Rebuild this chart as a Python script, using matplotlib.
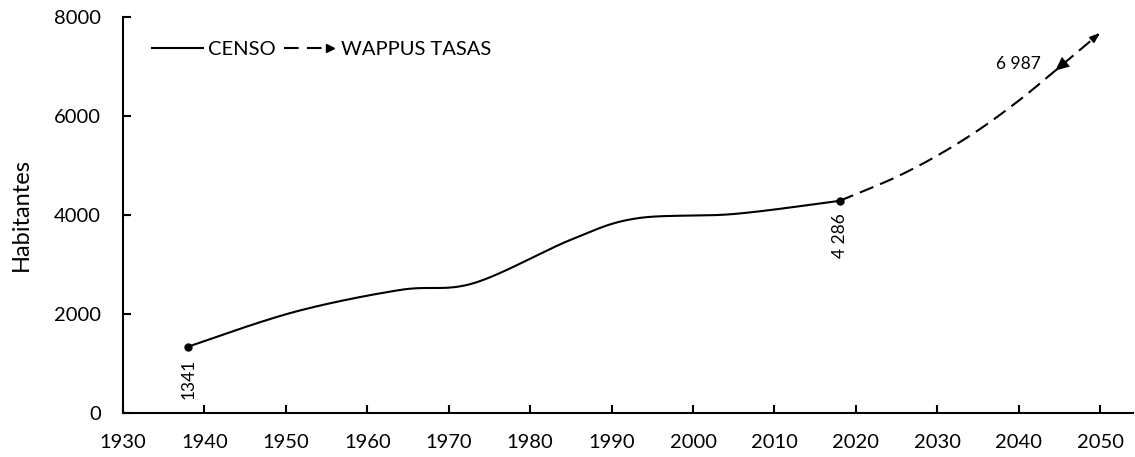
import numpy as np
import matplotlib
matplotlib.use('Agg')
import matplotlib.pyplot as plt
from matplotlib.lines import Line2D
from matplotlib.legend_handler import HandlerLine2D

plt.rcParams['font.family'] = ['Lato', 'DejaVu Sans']

# census counts
censo_years = [1938, 1951, 1964, 1973, 1985, 1993, 2005, 2018]
censo_pop = [1341, 2040, 2485, 2620, 3500, 3930, 4020, 4286]

# projection (Wappus, rates)
proj_years = [2018, 2020, 2025, 2030, 2035, 2040, 2045, 2050]
proj_pop = [4286, 4420, 4770, 5200, 5710, 6310, 6987, 7680]

xticks = list(range(1930, 2051, 10))
yticks = [0, 2000, 4000, 6000, 8000]


def smooth(x, y, n=40):
    # bezier smoothing through every point, like a spreadsheet "smoothed line"
    pts = np.column_stack([x, y]).astype(float)
    p = np.vstack([pts[0], pts, pts[-1]])
    t = np.linspace(0, 1, n)[:, None]
    out = []
    for i in range(1, len(p) - 2):
        p0, p1, p2, p3 = p[i - 1], p[i], p[i + 1], p[i + 2]
        c1 = p1 + (p2 - p0) / 6
        c2 = p2 - (p3 - p1) / 6
        seg = (1 - t)**3 * p1 + 3 * (1 - t)**2 * t * c1 + 3 * (1 - t) * t**2 * c2 + t**3 * p2
        out.append(seg if i == 1 else seg[1:])
    return np.vstack(out)


class ArrowLineHandler(HandlerLine2D):
    def create_artists(self, legend, orig_handle, xdescent, ydescent,
                       width, height, fontsize, trans):
        y = height / 2 - ydescent
        line = Line2D([-xdescent, width - xdescent - 6], [y, y], color='black',
                      lw=1.5, ls=(0, (7, 4)))
        head = Line2D([width - xdescent - 5], [y], marker='>', color='black',
                      markersize=6, ls='none')
        line.set_transform(trans)
        head.set_transform(trans)
        return [line, head]


fig = plt.figure(figsize=(11.35, 4.57), dpi=100)
ax = fig.add_axes([0.1084, 0.0963, 0.8896, 0.8665])

c = smooth(censo_years, censo_pop)
l1, = ax.plot(c[:, 0], c[:, 1], color='black', lw=1.5, solid_capstyle='butt')
ax.plot([censo_years[0], censo_years[-1]], [censo_pop[0], censo_pop[-1]], 'o',
        color='black', markersize=5)

p = smooth(proj_years, proj_pop)
l2, = ax.plot(p[:-3, 0], p[:-3, 1], color='black', lw=1.5, ls=(0, (7, 3.5)))
# arrow at the end of the projection
ax.annotate('', xy=(p[-1, 0], p[-1, 1]), xytext=(p[-6, 0], p[-6, 1]),
            arrowprops=dict(arrowstyle='-|>,head_length=0.55,head_width=0.2',
                            color='black', lw=1.5, shrinkA=0, shrinkB=0))
# triangle on the 2045 value
k = np.argmin(np.abs(p[:, 0] - proj_years[-2]))
ax.annotate('', xy=(p[k - 4, 0], p[k - 4, 1]), xytext=(p[k + 6, 0], p[k + 6, 1]),
            arrowprops=dict(arrowstyle='-|>,head_length=1.0,head_width=0.45',
                            color='black', lw=0.01, shrinkA=0, shrinkB=0))

ax.text(censo_years[0], censo_pop[0] - 250, f'{censo_pop[0]}', rotation=90,
        ha='center', va='top', fontsize=12.5)
ax.text(censo_years[-1], censo_pop[-1] - 250, f'{censo_pop[-1]:,}'.replace(',', ' '),
        rotation=90, ha='center', va='top', fontsize=12.5)
ax.text(proj_years[-2] - 5, proj_pop[-2] + 60, f'{proj_pop[-2]:,}'.replace(',', ' '),
        ha='center', va='center', fontsize=12.5)

ax.set_xlim(1930, 2054)
ax.set_ylim(0, 8000)
ax.set_xticks(xticks)
ax.set_yticks(yticks)
ax.tick_params(direction='in', length=6, width=1.5, labelsize=14.5)
ax.tick_params(axis='x', pad=15)
ax.tick_params(axis='y', pad=16)
for s in ['top', 'right']:
    ax.spines[s].set_visible(False)
for s in ['left', 'bottom']:
    ax.spines[s].set_linewidth(1.5)
ax.set_ylabel('Habitantes', fontsize=17, labelpad=16)

ax.legend([l1, l2], ['CENSO', 'WAPPUS TASAS'], ncol=2, loc='upper left',
          bbox_to_anchor=(0.01, 0.985), frameon=False, fontsize=14.5,
          handlelength=2.6, handletextpad=0.2, columnspacing=0.45,
          handler_map={l2: ArrowLineHandler()})

fig.savefig('out.png', dpi=100)
